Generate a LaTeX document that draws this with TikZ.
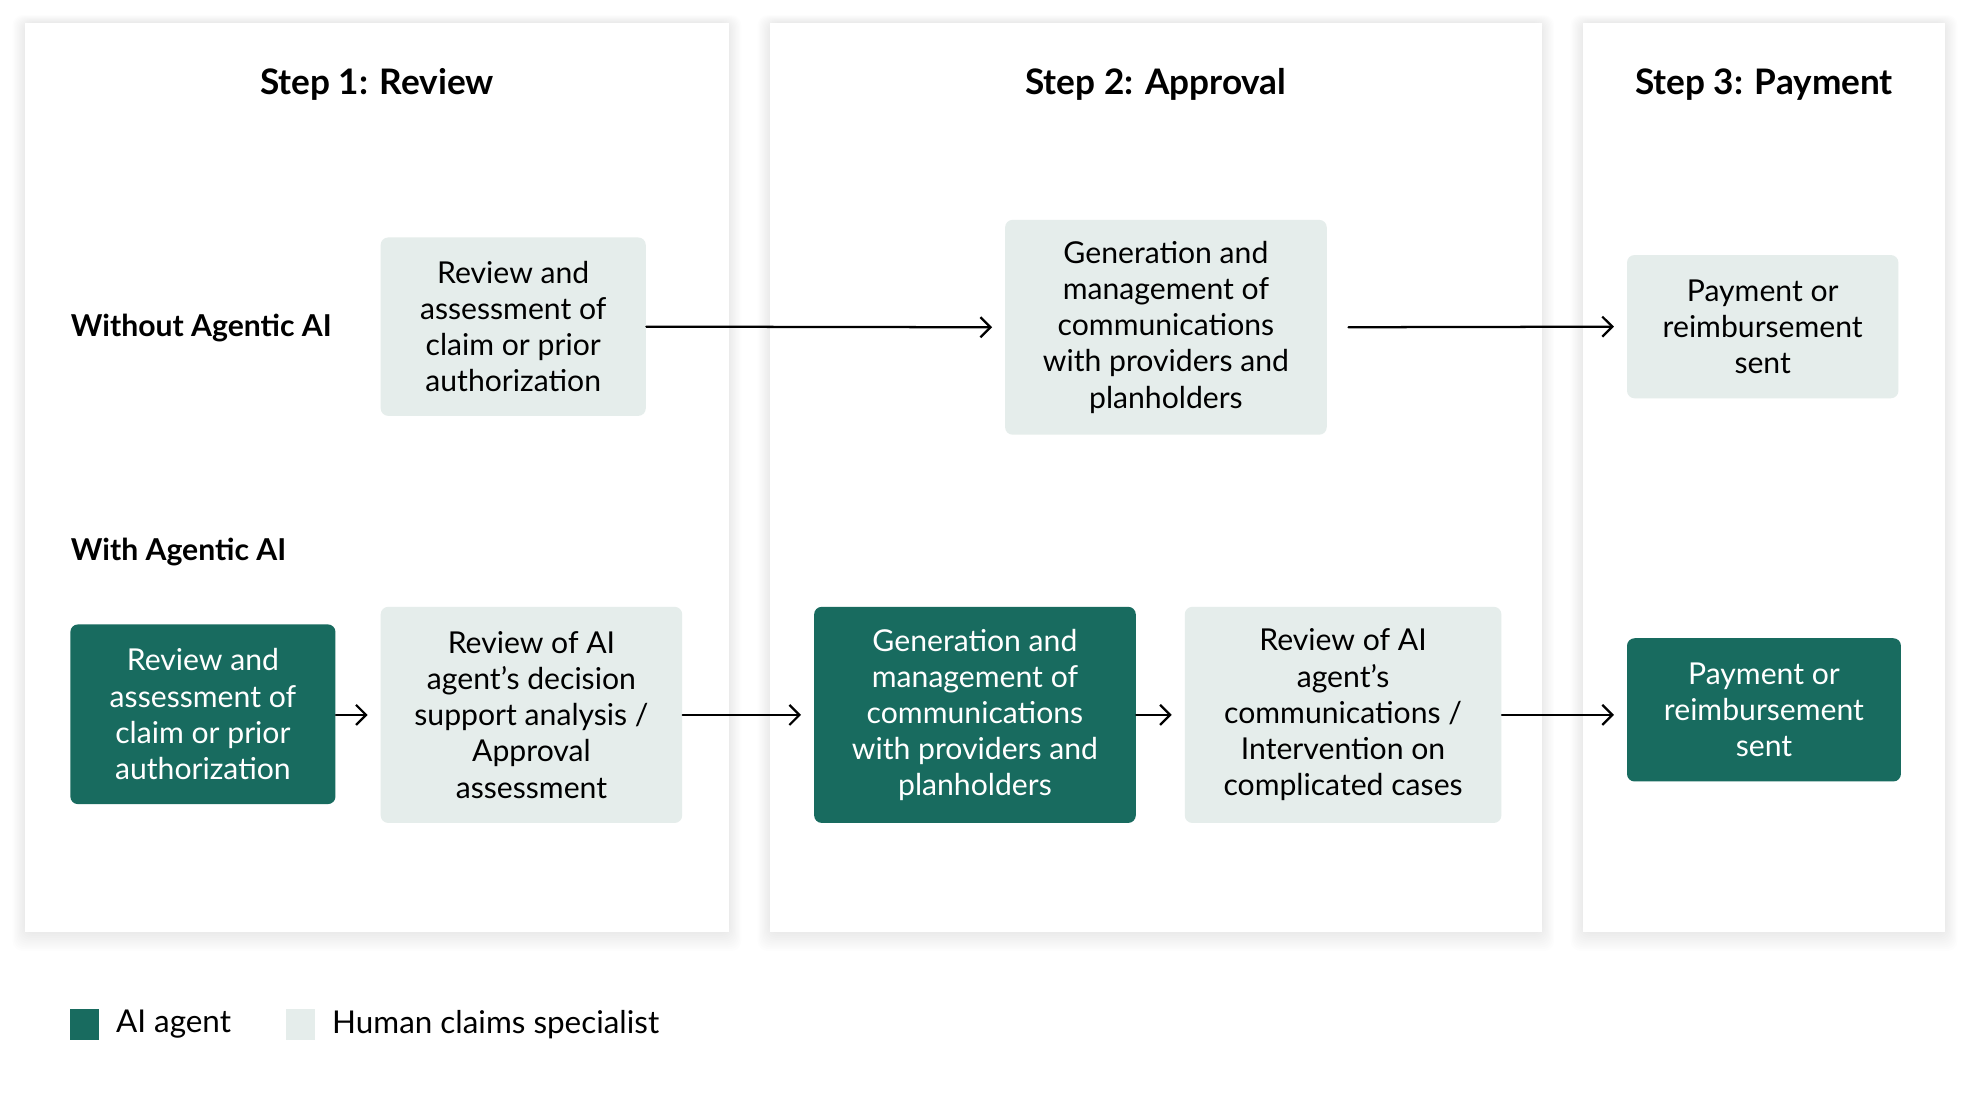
\documentclass[tikz,border=0pt]{standalone}
\usepackage{fontspec}
\setmainfont{Lato}
\usetikzlibrary{arrows.meta}
\definecolor{agentgreen}{HTML}{186B5F}
\definecolor{humangrey}{HTML}{E5EDEB}
\begin{document}
\begin{tikzpicture}[x=0.5pt,y=-0.5pt,font=\fontsize{12}{14.4}\selectfont,line join=round,line cap=round,>={Straight Barb[length=4pt,width=8pt]}]
	\tikzset{panelshade/.style={fill=black,opacity=0.006,rounded corners=4pt},
		box/.style={rounded corners=3pt,align=center,inner sep=0pt},
		human/.style={box,fill=humangrey,text=black},
		agent/.style={box,fill=agentgreen,text=white},
		steptitle/.style={font=\fontsize{14}{17}\selectfont\bfseries},
		rowlabel/.style={font=\fontsize{12}{14.4}\selectfont\bfseries,anchor=west,inner sep=0pt},
		flow/.style={->,line width=0.9pt,shorten >=5pt}}
	\def \W{1568}
	\def \H{877}
	\def \top{18}
	\def \bot{742}
	\useasboundingbox (0,0) rectangle (\W,\H);
	\fill[white] (0,0) rectangle (\W,\H);
	\foreach \a/\b in {20/580,613/1227,1260/1548}{
		\foreach \r in {1,...,10}
			\fill[panelshade] (\a-\r,\top-\r*0.6) rectangle (\b+\r,\bot+\r*1.5);
		\fill[white] (\a,\top) rectangle (\b,\bot);
	}
	\node[steptitle] (t1) at (300,67) {Step 1: Review};
	\node[steptitle] (t2) at (920,67) {Step 2: Approval};
	\node[steptitle] (t3) at (1404,67) {Step 3: Payment};
	\node[rowlabel] (without) at (56,261) {Without Agentic AI};
	\node[rowlabel] (with) at (56,439) {With Agentic AI};
	\node[human,minimum width=105.5pt,minimum height=71pt] (a1) at (408.5,260) {Review and\\assessment of\\claim or prior\\authorization};
	\node[human,minimum width=128pt,minimum height=85.5pt] (a2) at (928,260.5) {Generation and\\management of\\communications\\with providers and\\planholders};
	\node[human,minimum width=108pt,minimum height=57pt] (a3) at (1403,260) {Payment or\\reimbursement\\sent};
	\node[agent,minimum width=105.5pt,minimum height=71.5pt] (b1) at (161.5,568.5) {Review and\\assessment of\\claim or prior\\authorization};
	\node[human,minimum width=120pt,minimum height=86pt] (b2) at (423,569) {Review of AI\\agent’s decision\\support analysis /\\Approval\\assessment};
	\node[agent,minimum width=128pt,minimum height=86pt] (b3) at (776,569) {Generation and\\management of\\communications\\with providers and\\planholders};
	\node[human,minimum width=126pt,minimum height=86pt] (b4) at (1069,569) {Review of AI\\agent’s\\communications /\\Intervention on\\complicated cases};
	\node[agent,minimum width=109pt,minimum height=57pt] (b5) at (1404,565) {Payment or\\reimbursement\\sent};
	\draw[flow] (a1.east) -- (a2.west);
	\draw[flow,shorten <=8.5pt] (a2.east) -- (a3.west);
	\draw[flow] (b1.east|-b2.west) -- (b2.west);
	\draw[flow] (b2.east) -- (b3.west);
	\draw[flow] (b3.east) -- (b4.west);
	\draw[flow] (b4.east) -- (b5.west|-b4.east);
	\node[fill=agentgreen,minimum width=11.5pt,minimum height=12.5pt,inner sep=0pt] (keyagent) at (67.5,815.5) {};
	\node[anchor=west,inner sep=0pt] (keyagenttext) at (92,815.5) {\fontsize{12.5}{15}\selectfont AI agent};
	\node[fill=humangrey,minimum width=11.5pt,minimum height=12.5pt,inner sep=0pt] (keyhuman) at (239.5,815.5) {};
	\node[anchor=west,inner sep=0pt] (keyhumantext) at (264,815.5) {\fontsize{12.5}{15}\selectfont Human claims specialist};
\end{tikzpicture}
\end{document}
